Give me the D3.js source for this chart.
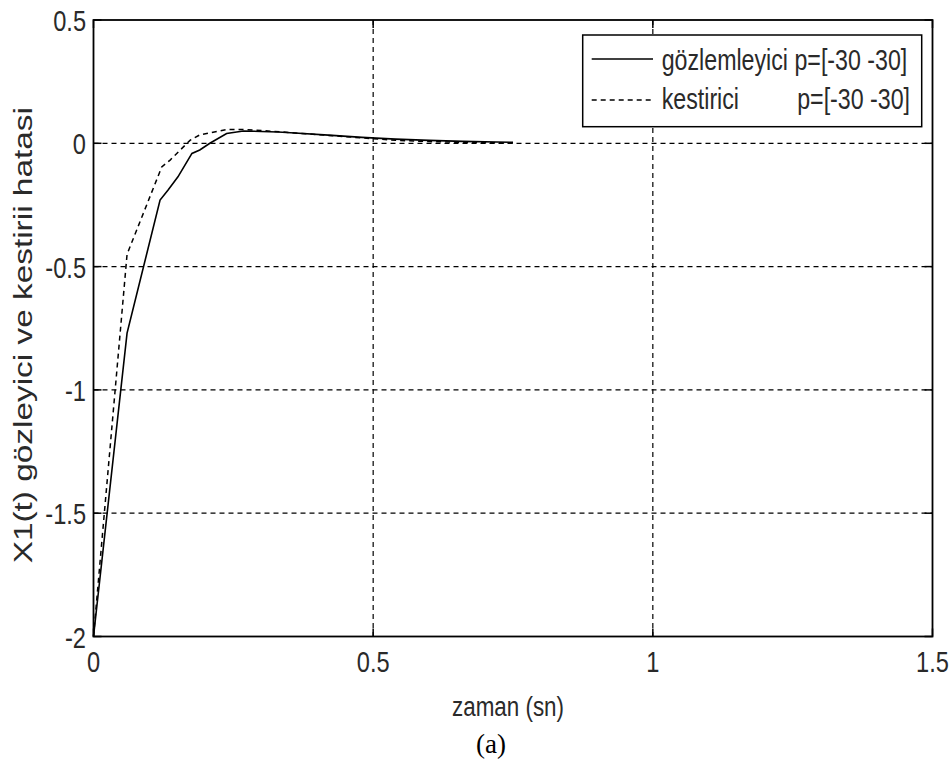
<!DOCTYPE html>
<html>
<head>
<meta charset="utf-8">
<script src="https://cdn.jsdelivr.net/npm/d3@7"></script>
<style>
  html, body { margin: 0; padding: 0; background: #fff; }
  svg { display: block; }
</style>
</head>
<body>
<svg id="chart" width="950" height="769"></svg>
<script>
// ---- data ----
const xTicks = [0, 0.5, 1, 1.5];
const yTicks = [0.5, 0, -0.5, -1, -1.5, -2];
const xTickLabels = ["0", "0.5", "1", "1.5"];
const yTickLabels = ["0.5", "0", "-0.5", "-1", "-1.5", "-2"];

const observerT = [0, 0.06, 0.119, 0.133, 0.151, 0.176, 0.19, 0.208, 0.238, 0.268, 0.30, 0.33, 0.36, 0.42, 0.48, 0.54, 0.60, 0.66, 0.72, 0.75];
const observerY = [-2, -0.77, -0.23, -0.19, -0.136, -0.041, -0.027, 0.0, 0.04, 0.05, 0.048, 0.046, 0.042, 0.033, 0.024, 0.017, 0.012, 0.008, 0.005, 0.004];

const estimatorT = [0, 0.06, 0.104, 0.122, 0.137, 0.173, 0.19, 0.238, 0.268, 0.30, 0.36, 0.42, 0.48, 0.54, 0.60, 0.66, 0.72, 0.75];
const estimatorY = [-2, -0.45, -0.199, -0.096, -0.068, 0.013, 0.034, 0.056, 0.056, 0.052, 0.042, 0.032, 0.022, 0.012, 0.007, 0.004, 0.002, 0.001];

const legendLabels = ["gözlemleyici p=[-30 -30]", "kestirici", "p=[-30 -30]"];
const xLabel = "zaman (sn)";
const yLabel = "X1(t) gözleyici ve kestirii hatasi";
const caption = "(a)";

// ---- layout ----
const L = 93.5, R = 932.5, T = 20, B = 636.5;
const x = d3.scaleLinear().domain([0, 1.5]).range([L, R]);
const y = d3.scaleLinear().domain([-2, 0.5]).range([B, T]);

const svg = d3.select("#chart");
const font = "'Liberation Sans', Arial, Helvetica, sans-serif";
const sx = 0.8; // horizontal compression of text (stretched original)
const textColor = "#2a2a2a";

function htext(g, px, py, str, size, anchor) {
  return g.append("text")
    .attr("transform", `translate(${px},${py}) scale(${sx},1)`)
    .attr("text-anchor", anchor)
    .attr("font-family", font)
    .attr("font-size", size)
    .attr("fill", textColor)
    .text(str);
}

// grid
const grid = svg.append("g");
grid.selectAll("line.gx").data(xTicks.slice(1, -1)).join("line")
  .attr("x1", d => x(d)).attr("x2", d => x(d))
  .attr("y1", T).attr("y2", B)
  .attr("stroke", "#000").attr("stroke-width", 1.2).attr("stroke-dasharray", "5,4");
grid.selectAll("line.gy").data(yTicks.slice(1, -1)).join("line")
  .attr("x1", L).attr("x2", R)
  .attr("y1", d => y(d)).attr("y2", d => y(d))
  .attr("stroke", "#000").attr("stroke-width", 1.2).attr("stroke-dasharray", "5,4");

// tick marks (inside, all four sides)
const tl = 8;
const ticks = svg.append("g").attr("stroke", "#000").attr("stroke-width", 1.5);
xTicks.forEach(v => {
  ticks.append("line").attr("x1", x(v)).attr("x2", x(v)).attr("y1", B).attr("y2", B - tl);
  ticks.append("line").attr("x1", x(v)).attr("x2", x(v)).attr("y1", T).attr("y2", T + tl);
});
yTicks.forEach(v => {
  ticks.append("line").attr("x1", L).attr("x2", L + tl).attr("y1", y(v)).attr("y2", y(v));
  ticks.append("line").attr("x1", R).attr("x2", R - tl).attr("y1", y(v)).attr("y2", y(v));
});

// data lines
const line = d3.line().x(d => x(d[0])).y(d => y(d[1]));
svg.append("path")
  .datum(observerT.map((t, i) => [t, observerY[i]]))
  .attr("d", line).attr("fill", "none")
  .attr("stroke", "#000").attr("stroke-width", 1.6);
svg.append("path")
  .datum(estimatorT.map((t, i) => [t, estimatorY[i]]))
  .attr("d", line).attr("fill", "none")
  .attr("stroke", "#000").attr("stroke-width", 1.5).attr("stroke-dasharray", "5,4");

// frame
svg.append("rect").attr("x", L).attr("y", T).attr("width", R - L).attr("height", B - T)
  .attr("fill", "none").attr("stroke", "#000").attr("stroke-width", 1.8);

// tick labels
const lab = svg.append("g");
yTicks.forEach((v, i) => htext(lab, 86, y(v) + 11, yTickLabels[i], 29.5, "end"));
xTicks.forEach((v, i) => htext(lab, x(v), 672, xTickLabels[i], 29.5, "middle"));

// axis labels
htext(svg, (L + R) / 2 - 5, 716, xLabel, 28, "middle");
svg.append("text")
  .attr("transform", `translate(32,${(T + B) / 2 + 7}) rotate(-90) scale(1.26,1)`)
  .attr("text-anchor", "middle")
  .attr("font-family", font).attr("font-size", 26.5).attr("fill", textColor)
  .text(yLabel);

// caption
svg.append("text")
  .attr("x", 491).attr("y", 753)
  .attr("text-anchor", "middle")
  .attr("font-family", "'Liberation Serif', 'Times New Roman', serif")
  .attr("font-size", 27).attr("fill", "#000")
  .text(caption);

// legend
const lg = svg.append("g");
lg.append("rect").attr("x", 582.7).attr("y", 35).attr("width", 339).attr("height", 91.7)
  .attr("fill", "#fff").attr("stroke", "#000").attr("stroke-width", 1.5);
lg.append("line").attr("x1", 591.7).attr("x2", 653).attr("y1", 59).attr("y2", 59)
  .attr("stroke", "#000").attr("stroke-width", 1.6);
lg.append("line").attr("x1", 591.7).attr("x2", 653).attr("y1", 100).attr("y2", 100)
  .attr("stroke", "#000").attr("stroke-width", 1.5).attr("stroke-dasharray", "5,4");
htext(lg, 661.7, 70, legendLabels[0], 29, "start");
htext(lg, 661.7, 109, legendLabels[1], 29, "start");
htext(lg, 910, 109, legendLabels[2], 29, "end");
</script>
</body>
</html>
